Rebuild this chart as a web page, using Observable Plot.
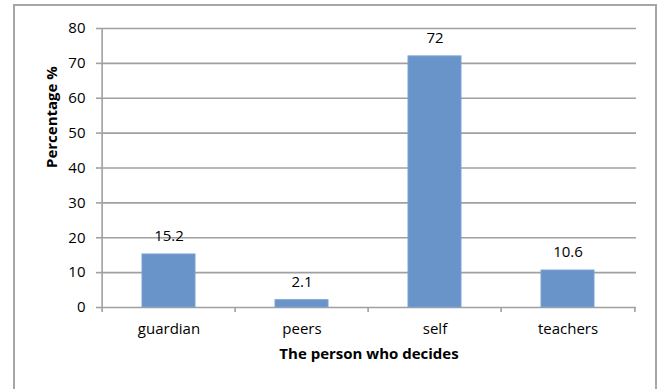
<!DOCTYPE html>
<html>
<head>
<meta charset="utf-8">
<script src="https://cdn.jsdelivr.net/npm/d3@7"></script>
<script src="https://cdn.jsdelivr.net/npm/@observablehq/plot@0.6"></script>
<style>
  html, body { margin: 0; padding: 0; background: #fff; }
  #wrap { position: relative; width: 663px; height: 389px; overflow: hidden; }
  #border { position: absolute; left: 13px; top: 4px; width: 644px; height: 400px; border: 2px solid #a6a6a6; box-sizing: border-box; pointer-events: none; }
  svg { font-family: "Open Sans", sans-serif; }
</style>
</head>
<body>
<div id="wrap"><div id="border"></div></div>
<script>
const categories = ["guardian", "peers", "self", "teachers"];
const values = [15.2, 2.1, 72, 10.6];
const valueLabels = ["15.2", "2.1", "72", "10.6"];
const yTicks = [0, 10, 20, 30, 40, 50, 60, 70, 80];

const data = categories.map((c, i) => ({category: c, value: values[i], label: valueLabels[i]}));

const W = 663, H = 389, ML = 101, MR = 27, MT = 28, MB = 82;
const step = (W - ML - MR) / categories.length;
const grid = "#a0a0a0";

const chart = Plot.plot({
  width: W,
  height: H,
  marginLeft: ML,
  marginRight: MR,
  marginTop: MT,
  marginBottom: MB,
  style: {fontSize: "15px", fontFamily: "'Open Sans', sans-serif", color: "#000", background: "transparent"},
  x: {type: "band", domain: categories, padding: 0.6, paddingOuter: 0.3, label: null},
  y: {domain: [0, 80], label: null},
  marks: [
    Plot.ruleY(yTicks, {y: d => d, stroke: grid, strokeWidth: 1.6}),
    Plot.ruleX(categories.slice(0, 1), {x: d => d, y1: 0, y2: 80, dx: -step / 2, stroke: grid, strokeWidth: 1.6}),
    Plot.barY(data, {x: "category", y: "value", fill: "#6894c9", stroke: "#7aa2d2", strokeWidth: 1}),
    Plot.ruleX(categories, {x: d => d, y1: 0, y2: 0, insetBottom: -5, dx: -step / 2, stroke: grid, strokeWidth: 1.6}),
    Plot.ruleX(categories.slice(-1), {x: d => d, y1: 0, y2: 0, insetBottom: -5, dx: step / 2, stroke: grid, strokeWidth: 1.6}),
    Plot.axisY({ticks: yTicks, tickSize: 5, tickPadding: 11, stroke: grid, strokeWidth: 1.6, fill: "#000", fontSize: 15, label: null}),
    Plot.axisX({tickSize: 0, tickPadding: 16, fill: "#000", fontSize: 15, label: null}),
    Plot.text(data, {x: "category", y: "value", text: "label", dy: -18, fill: "#000", fontSize: 15}),
    Plot.text(["Percentage %"], {frameAnchor: "left", rotate: -90, dx: -49, fontWeight: "bold", fontSize: 15, fill: "#000"}),
    Plot.text(["The person who decides"], {frameAnchor: "bottom", dy: 51, fontWeight: "bold", fontSize: 15, fill: "#000"})
  ]
});
document.getElementById("wrap").prepend(chart);
chart.style.position = "absolute";
chart.style.left = "0";
chart.style.top = "0";
</script>
</body>
</html>
